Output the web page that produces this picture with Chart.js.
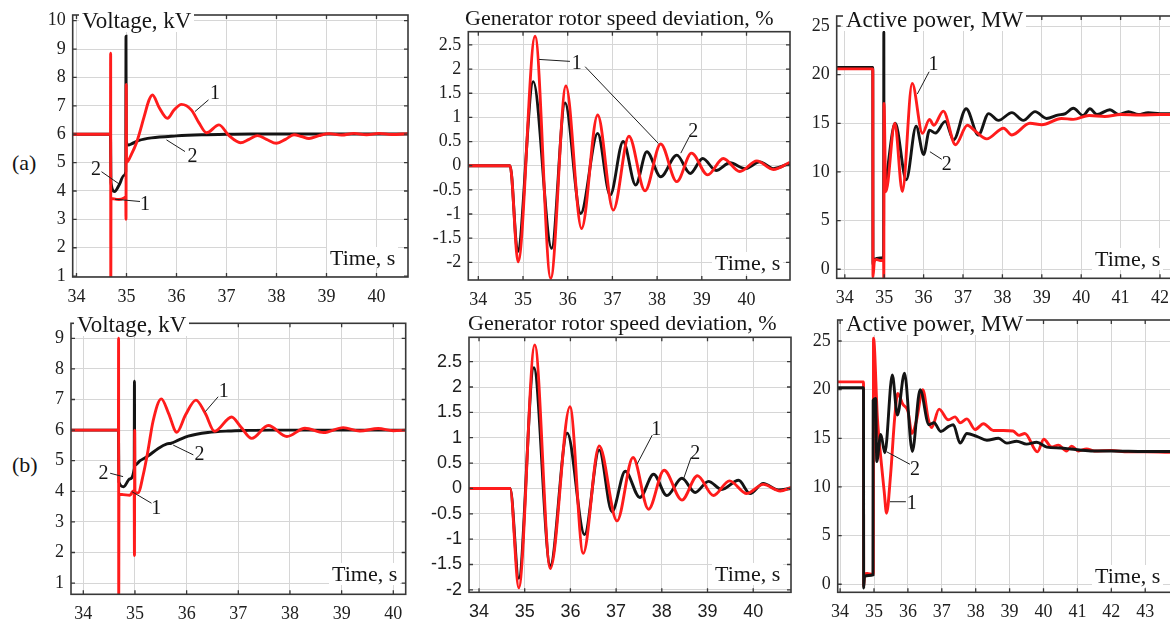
<!DOCTYPE html>
<html><head><meta charset="utf-8">
<script src="https://cdn.jsdelivr.net/npm/chart.js@4/dist/chart.umd.min.js"></script>
<style>
html,body{margin:0;padding:0;background:#fff;}
#wrap{position:relative;width:1170px;height:628px;overflow:hidden;background:#fff;}
canvas{position:absolute;}
.t{position:absolute;white-space:nowrap;color:#151515;font-family:"Liberation Serif",serif;font-size:22px;line-height:22px;}
.bg{background:#fff;padding:0 3px;}
.ann{position:absolute;white-space:nowrap;font-family:"Liberation Serif",serif;font-size:20px;line-height:20px;color:#151515;transform:translate(-50%,-50%);background:transparent;}
</style></head><body>
<div id="wrap">
  <div class="t" style="left:12px;top:152px;">(a)</div>
  <div class="t" style="left:12px;top:454px;">(b)</div>
</div>
<script>
// ---------------- DATA ----------------
const xTicksV = [34,35,36,37,38,39,40];
const xTicksPa = [34,35,36,37,38,39,40,41,42];
const xTicksPb = [34,35,36,37,38,39,40,41,42,43];
const yTicksVa = [1,2,3,4,5,6,7,8,9,10];
const yTicksVb = [1,2,3,4,5,6,7,8,9];
const yTicksS = [-2,-1.5,-1,-0.5,0,0.5,1,1.5,2,2.5];
const yTicksP = [0,5,10,15,20,25];

// (a) Voltage, kV : curve 1 (red), curve 2 (black)
const va_t1 = [33.92,34.68,34.683,34.686,34.69,34.75,34.85,34.95,34.985,34.99,34.995,35.0,35.1,35.2,35.35,35.45,35.52,35.65,35.82,35.95,36.1,36.3,36.45,36.6,36.85,37.05,37.28,37.45,37.62,37.8,38.0,38.18,38.35,38.5,38.65,38.85,39.05,39.3,39.55,39.8,40.05,40.3,40.63];
const va_y1 = [6,6,8.85,0.5,3.75,3.72,3.7,3.75,3.8,3.0,7.75,5.0,5.3,5.7,6.6,7.2,7.38,6.95,6.56,6.85,7.05,6.85,6.4,6.05,6.33,5.95,5.7,5.82,5.95,5.82,5.68,5.82,5.98,5.92,5.85,5.95,6.02,5.97,6.03,5.98,6.03,5.99,6.02];
const va_t2 = [33.92,34.68,34.69,34.76,34.85,34.95,34.985,34.99,34.995,35.04,35.1,35.25,35.5,36.0,36.5,37.0,37.5,38.5,40.63];
const va_y2 = [6,6,4.3,3.98,4.2,4.55,4.68,9.45,5.75,5.62,5.66,5.78,5.87,5.94,5.98,6.0,6.01,6.01,6.01];

// (a) Generator rotor speed deviation, %
const sa_t1 = [33.78,34.71,34.89,35.27,35.62,35.96,36.31,36.67,37.02,37.37,37.73,38.08,38.44,38.77,39.13,39.48,39.85,40.23,40.60,40.97];
const sa_y1 = [0,0,-1.99,2.68,-2.33,1.65,-1.30,1.05,-0.92,0.61,-0.52,0.45,-0.33,0.26,-0.19,0.15,-0.12,0.10,-0.08,0.07];
const sa_t2 = [33.78,34.71,34.88,35.23,35.64,35.94,36.29,36.67,36.95,37.24,37.52,37.77,38.08,38.44,38.74,39.02,39.32,39.63,39.97,40.30,40.60,40.97];
const sa_y2 = [0,0,-1.78,1.74,-1.71,1.30,-0.99,0.67,-0.61,0.50,-0.40,0.29,-0.23,0.22,-0.16,0.15,-0.10,0.06,-0.06,0.08,-0.06,0.05];

// (a) Active power, MW
const pa_t1 = [33.79,34.71,34.715,34.75,34.8,34.9,34.985,34.99,34.995,35.04,35.27,35.46,35.71,35.97,36.15,36.26,36.5,36.81,37.11,37.31,37.6,38.03,38.24,38.7,39.0,39.5,39.8,40.2,40.6,41.0,41.5,42.0,42.38];
const pa_y1 = [20.6,20.6,-0.8,0.8,1.0,0.9,0.9,-1.2,17.05,7.97,15.0,8.0,19.1,13.97,15.4,14.8,16.25,12.8,14.8,14.2,13.4,14.5,13.8,15.0,14.85,15.5,15.4,15.8,15.7,15.9,15.85,15.9,15.9];
const pa_t2 = [33.79,34.71,34.715,34.75,34.9,34.985,34.99,34.995,35.04,35.28,35.56,35.81,36.0,36.15,36.3,36.55,36.76,37.08,37.39,37.65,37.9,38.24,38.53,38.83,39.12,39.4,39.6,39.8,40.05,40.22,40.4,40.73,40.95,41.2,41.45,41.7,42.0,42.38];
const pa_y2 = [20.75,20.75,0.5,1.0,1.15,1.3,24.4,8.0,9.0,15.0,9.2,14.7,11.8,14.3,14.0,15.2,13.3,16.5,13.8,16.0,15.3,16.1,15.3,16.2,15.5,15.85,16.0,16.55,15.8,16.5,15.9,16.4,15.9,16.2,15.9,16.1,16.0,16.0];

// (b) Voltage, kV
const vb_t1 = [33.76,34.68,34.683,34.686,34.69,34.77,34.9,34.96,34.985,34.99,34.995,35.0,35.06,35.16,35.25,35.35,35.51,35.65,35.81,35.98,36.18,36.36,36.54,36.87,37.05,37.26,37.58,37.94,38.29,38.65,39.03,39.35,39.71,40.0,40.24];
const vb_y1 = [6,6,9.0,0.5,3.9,3.89,3.87,4.0,4.02,1.9,6.0,3.95,3.95,4.54,5.31,6.29,7.02,6.55,5.93,6.5,6.98,6.55,5.96,6.43,6.1,5.73,6.15,5.79,6.06,5.92,6.08,5.97,6.05,5.98,6.0];
const vb_t2 = [33.76,34.68,34.69,34.78,34.9,34.985,34.99,34.995,35.1,35.25,35.45,35.62,35.7,35.85,36.03,36.41,36.8,37.2,37.6,40.24];
const vb_y2 = [6,6,4.3,4.15,4.4,4.75,7.6,4.85,5.0,5.15,5.4,5.55,5.57,5.68,5.8,5.92,5.97,5.99,6.0,6.0];

// (b) Generator rotor speed deviation, %
const sb_t1 = [33.78,34.68,34.87,35.22,35.56,35.99,36.28,36.63,37.02,37.37,37.71,38.05,38.44,38.78,39.13,39.48,39.86,40.22,40.59,40.83];
const sb_y1 = [0,0,-1.96,2.83,-1.58,1.61,-1.28,0.84,-0.64,0.61,-0.41,0.36,-0.23,0.25,-0.14,0.15,-0.10,0.08,-0.05,0.02];
const sb_t2 = [33.78,34.68,34.87,35.20,35.56,35.93,36.31,36.63,36.91,37.20,37.52,37.82,38.11,38.44,38.73,39.02,39.31,39.68,39.93,40.22,40.55,40.83];
const sb_y2 = [0,0,-1.77,2.38,-1.52,1.09,-0.91,0.76,-0.46,0.34,-0.18,0.28,-0.14,0.20,-0.08,0.14,-0.02,0.16,-0.10,0.10,-0.03,0.0];

// (b) Active power, MW
const pb_t1 = [33.93,34.69,34.695,34.72,34.8,34.95,34.98,34.985,35.1,35.2,35.3,35.37,35.49,35.61,35.7,35.85,36.0,36.12,36.25,36.44,36.6,36.7,36.92,37.19,37.39,37.54,37.74,37.98,38.23,38.52,38.82,39.1,39.28,39.45,39.82,40.01,40.24,40.44,40.68,40.83,41.03,41.27,41.5,42.0,42.5,43.0,43.88];
const pb_y1 = [20.8,20.8,-0.2,1.0,1.1,1.0,1.0,25.3,17.1,13.0,9.55,7.3,11.3,17.1,19.6,18.5,17.8,15.5,16.8,20.0,17.0,16.1,18.0,16.9,17.2,16.6,17.0,15.9,16.5,15.8,15.8,15.75,15.3,15.5,13.6,14.9,14.1,14.3,13.7,14.2,13.7,13.9,13.7,13.75,13.6,13.6,13.55];
const pb_t2 = [33.93,34.69,34.695,34.72,34.85,34.97,34.975,35.05,35.08,35.2,35.32,35.54,35.69,35.9,36.13,36.36,36.62,36.77,36.97,37.19,37.34,37.54,37.74,38.03,38.33,38.67,38.92,39.21,39.5,39.8,40.1,40.5,40.8,41.4,42.0,43.0,43.88];
const pb_y2 = [20.2,20.2,-0.4,0.8,0.9,0.95,18.9,19.1,12.6,15.4,13.5,21.5,17.4,21.7,13.65,20.0,16.4,16.6,15.7,16.2,16.4,14.5,15.5,15.2,14.8,15.0,14.5,14.7,14.4,14.6,14.1,14.0,13.9,13.7,13.7,13.65,13.65];

// curve number labels: label position and leader line, in data units
const annVa = [
  {txt:'1', at:[36.77,7.50], lines:[[[36.64,7.21],[36.37,6.80]]]},
  {txt:'2', at:[36.32,5.27], lines:[[[36.17,5.39],[35.80,5.80]]]},
  {txt:'2', at:[34.39,4.80], lines:[[[34.50,4.68],[34.85,4.25]]]},
  {txt:'1', at:[35.37,3.57], lines:[[[35.27,3.63],[34.77,3.71]]]}
];
const annSa = [
  {txt:'1', at:[36.20,2.15], lines:[[[36.05,2.16],[35.36,2.20]],[[36.39,2.05],[38.03,0.46]]]},
  {txt:'2', at:[38.81,0.74], lines:[[[38.72,0.60],[38.53,0.26]]]}
];
const annPa = [
  {txt:'1', at:[36.25,21.17], lines:[[[36.14,20.30],[35.84,18.01]]]},
  {txt:'2', at:[36.59,10.89], lines:[[[36.46,11.30],[36.16,12.08]]]}
];
const annVb = [
  {txt:'1', at:[36.72,7.31], lines:[[[36.61,7.09],[36.36,6.60]]]},
  {txt:'2', at:[36.25,5.24], lines:[[[36.13,5.19],[35.74,5.51]]]},
  {txt:'2', at:[34.39,4.64], lines:[[[34.52,4.59],[34.77,4.48]]]},
  {txt:'1', at:[35.41,3.50], lines:[[[35.32,3.61],[34.94,3.99]]]}
];
const annSb = [
  {txt:'1', at:[37.88,1.19], lines:[[[37.79,1.05],[37.46,0.48]]]},
  {txt:'2', at:[38.73,0.72], lines:[[[38.64,0.61],[38.48,0.20]]]}
];
const annPb = [
  {txt:'2', at:[36.21,11.92], lines:[[[36.06,12.33],[35.37,13.62]]]},
  {txt:'1', at:[36.11,8.48], lines:[[[35.94,8.48],[35.47,8.48]]]}
];

// ---------------- LAYOUT ----------------
const RED = '#ff1c1c', BLACK = '#141414';
const panels = [
  {rect:[72.7,15,408,277], xr:[33.924,40.63], yr:[0.97,10.2], xt:xTicksV, yt:yTicksVa,
   series:[[va_t1,va_y1,RED],[va_t2,va_y2,BLACK]], ann:annVa, font:'Liberation Serif',
   title:{txt:'Voltage, kV', left:79, top:9, size:23, bg:true}, time:{left:327, top:247}},
  {rect:[468.3,31.7,790,280], xr:[33.776,40.973], yr:[-2.366,2.774], xt:xTicksV, yt:yTicksS,
   series:[[sa_t1,sa_y1,RED],[sa_t2,sa_y2,BLACK]], ann:annSa, font:'Liberation Serif',
   title:{txt:'Generator rotor speed deviation, %', left:465, top:7, size:22, bg:false}, time:{left:712, top:252}},
  {rect:[836.7,16,1175,278.3], xr:[33.794,42.381], yr:[-0.93,26.03], xt:xTicksPa, yt:yTicksP,
   series:[[pa_t1,pa_y1,RED],[pa_t2,pa_y2,BLACK]], ann:annPa, font:'Liberation Serif',
   title:{txt:'Active power, MW', left:843, top:8, size:23, bg:true}, time:{left:1092, top:248}},
  {rect:[71,323.3,405.7,594.3], xr:[33.762,40.24], yr:[0.634,9.49], xt:xTicksV, yt:yTicksVb,
   series:[[vb_t1,vb_y1,RED],[vb_t2,vb_y2,BLACK]], ann:annVb, font:'Liberation Serif',
   title:{txt:'Voltage, kV', left:74, top:313, size:23, bg:true}, time:{left:329, top:563}},
  {rect:[469,337.3,791,592.3], xr:[33.781,40.827], yr:[-2.048,2.98], xt:xTicksV, yt:yTicksS,
   series:[[sb_t1,sb_y1,RED],[sb_t2,sb_y2,BLACK]], ann:annSb, font:'Liberation Sans',
   title:{txt:'Generator rotor speed deviation, %', left:468, top:312, size:22, bg:false}, time:{left:712, top:563}},
  {rect:[837.7,320,1175,592.3], xr:[33.929,43.879], yr:[-0.83,27.16], xt:xTicksPb, yt:yTicksP,
   series:[[pb_t2,pb_y2,BLACK],[pb_t1,pb_y1,RED]], ann:annPb, font:'Liberation Serif',
   title:{txt:'Active power, MW', left:843, top:312, size:23, bg:true}, time:{left:1092, top:565}}
];

const wrap = document.getElementById('wrap');

function framePlugin(ann){
  return {
    id:'frame',
    afterDatasetsDraw(chart){
      const ctx = chart.ctx, a = chart.chartArea, x = chart.scales.x, y = chart.scales.y;
      ctx.save();
      ctx.strokeStyle = '#1e1e1e'; ctx.lineWidth = 1;
      for (const an of ann) for (const ln of an.lines) {
        ctx.beginPath();
        ctx.moveTo(x.getPixelForValue(ln[0][0]), y.getPixelForValue(ln[0][1]));
        ctx.lineTo(x.getPixelForValue(ln[1][0]), y.getPixelForValue(ln[1][1]));
        ctx.stroke();
      }
      ctx.strokeStyle = '#383838'; ctx.lineWidth = 1.6;
      ctx.strokeRect(a.left, a.top, a.right - a.left, a.bottom - a.top);
      ctx.lineWidth = 1.3; ctx.beginPath();
      for (const t of x.ticks) {
        const p = x.getPixelForValue(t.value);
        ctx.moveTo(p, a.bottom); ctx.lineTo(p, a.bottom - 4);
        ctx.moveTo(p, a.top); ctx.lineTo(p, a.top + 4);
      }
      for (const t of y.ticks) {
        const p = y.getPixelForValue(t.value);
        ctx.moveTo(a.left, p); ctx.lineTo(a.left + 4, p);
        ctx.moveTo(a.right, p); ctx.lineTo(a.right - 4, p);
      }
      ctx.stroke();
      ctx.restore();
    }
  };
}

for (const p of panels) {
  const [l,t,r,b] = p.rect;
  const cl = Math.floor(l) - 60, ct = Math.floor(t) - 10;
  const cr = Math.ceil(r) + 10, cb = Math.ceil(b) + 40;
  const W = cr - cl, H = cb - ct;
  const cv = document.createElement('canvas');
  cv.width = W; cv.height = H;
  cv.style.left = cl + 'px'; cv.style.top = ct + 'px';
  cv.style.width = W + 'px'; cv.style.height = H + 'px';
  wrap.appendChild(cv);
  const yw = l - cl, padTop = t - ct, padRight = cr - r, xh = cb - b;
  const tickFont = {family:p.font, size:18};
  const chart = new Chart(cv, {
    type:'line',
    data:{datasets:p.series.map(s => ({
      data:s[0].map((tv,i) => ({x:tv, y:s[1][i]})),
      borderColor:s[2], backgroundColor:s[2], borderWidth:2.9,
      pointRadius:0, fill:false, cubicInterpolationMode:'monotone'
    }))},
    options:{
      responsive:false, animation:false, devicePixelRatio:1,
      events:[],
      layout:{padding:{left:0, top:padTop, right:padRight, bottom:0}},
      plugins:{legend:{display:false}, tooltip:{enabled:false}},
      scales:{
        x:{type:'linear', min:p.xr[0], max:p.xr[1], bounds:'data',
           afterBuildTicks:s => { s.ticks = p.xt.map(v => ({value:v})); },
           afterFit:s => { s.height = xh; s.paddingLeft = 0; s.paddingRight = 0; },
           grid:{color:'#d6d6d6', lineWidth:1, drawTicks:false},
           border:{display:false},
           ticks:{autoSkip:false, maxRotation:0, minRotation:0, padding:9, font:tickFont, color:'#202020', callback:v => String(v)}},
        y:{type:'linear', min:p.yr[0], max:p.yr[1], bounds:'data',
           afterBuildTicks:s => { s.ticks = p.yt.map(v => ({value:v})); },
           afterFit:s => { s.width = yw; s.paddingTop = 0; s.paddingBottom = 0; },
           grid:{color:'#d6d6d6', lineWidth:1, drawTicks:false},
           border:{display:false},
           ticks:{autoSkip:false, padding:7, font:tickFont, color:'#202020', callback:v => String(v)}}
      }
    },
    plugins:[framePlugin(p.ann)]
  });
  // title
  const tt = document.createElement('div');
  tt.className = 't' + (p.title.bg ? ' bg' : '');
  tt.style.left = p.title.left + 'px'; tt.style.top = p.title.top + 'px';
  tt.style.fontSize = p.title.size + 'px'; tt.style.lineHeight = p.title.size + 'px';
  tt.textContent = p.title.txt;
  wrap.appendChild(tt);
  // axis name
  const tm = document.createElement('div');
  tm.className = 't bg';
  tm.style.left = p.time.left + 'px'; tm.style.top = p.time.top + 'px';
  tm.textContent = 'Time, s';
  wrap.appendChild(tm);
  // curve numbers positioned through the scales
  for (const an of p.ann) {
    const d = document.createElement('div');
    d.className = 'ann';
    d.style.left = (cl + chart.scales.x.getPixelForValue(an.at[0])) + 'px';
    d.style.top = (ct + chart.scales.y.getPixelForValue(an.at[1])) + 'px';
    d.textContent = an.txt;
    wrap.appendChild(d);
  }
}
</script>
</body></html>
